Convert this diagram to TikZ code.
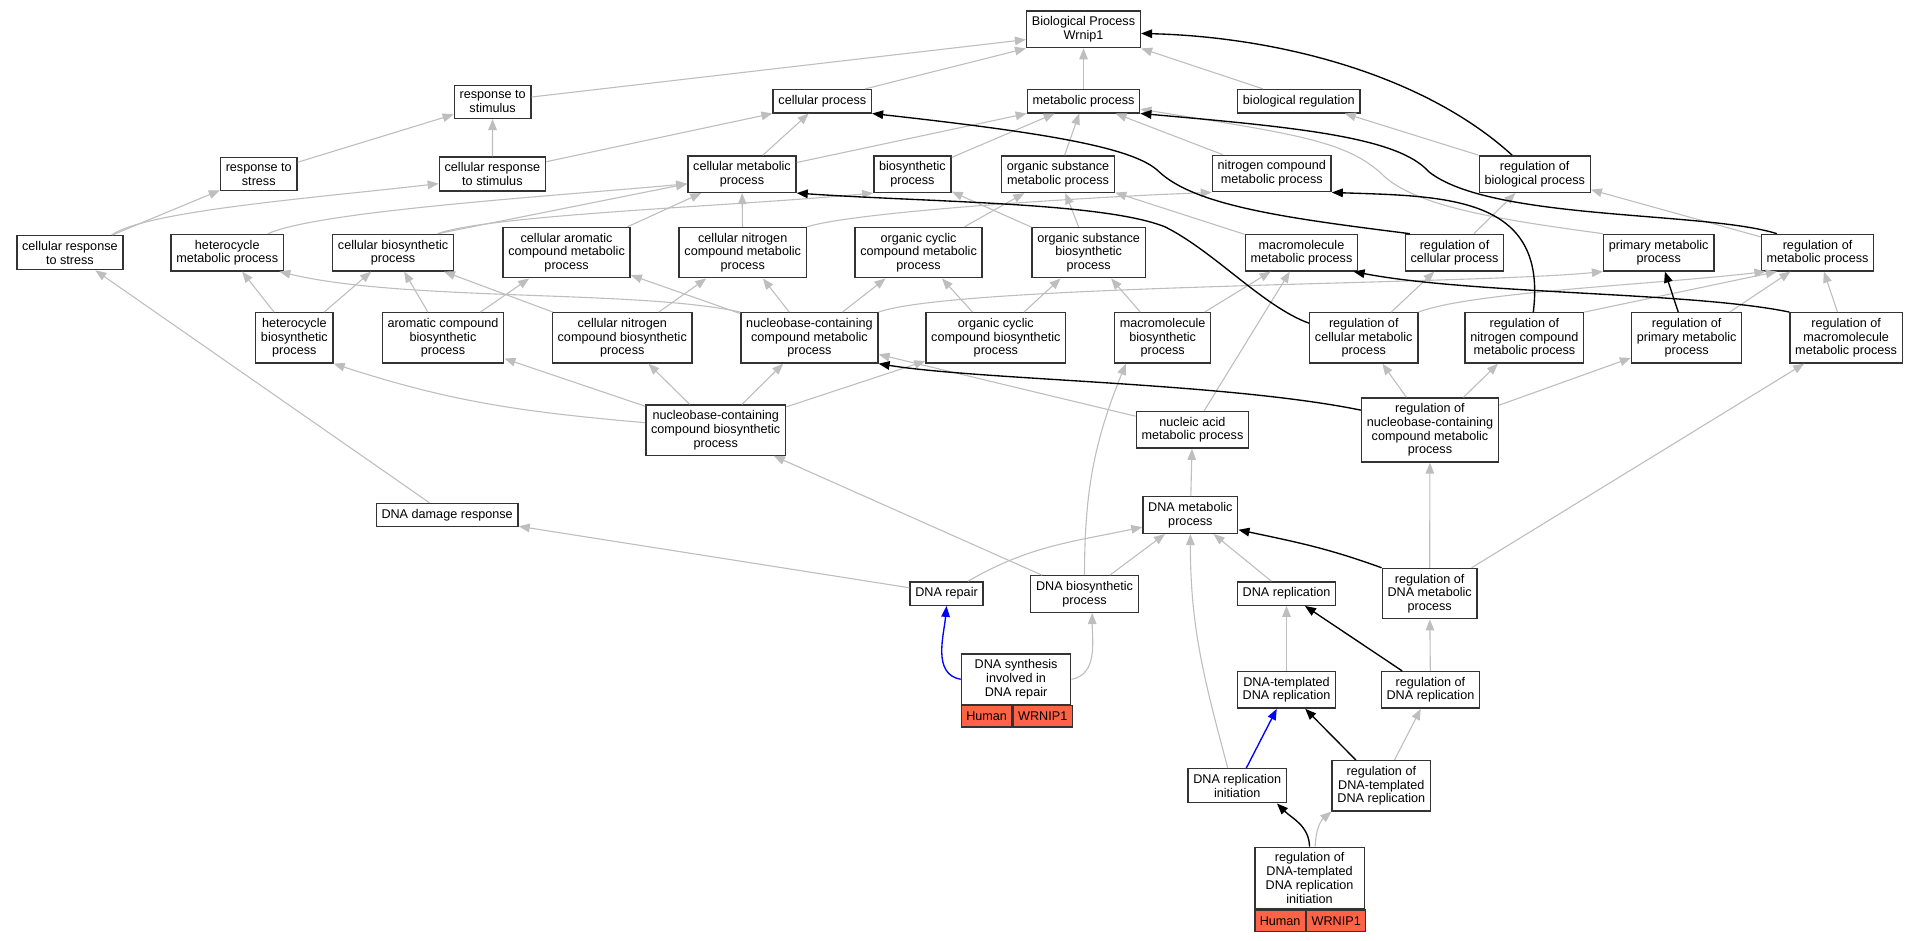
\documentclass[tikz,border=0pt]{standalone}
\usepackage{fontspec}
\setmainfont{Liberation Sans}
\usepackage{xcolor}
\usepackage{tikz}
\usetikzlibrary{arrows.meta, positioning}

\definecolor{edgegray}{HTML}{BEBEBE}
\definecolor{boxline}{HTML}{333333}
\definecolor{hitred}{HTML}{FF6347}

\begin{document}
\begin{tikzpicture}[
        x=1pt, y=1pt,
        term/.style={rectangle, draw=boxline, line width=1.1pt, fill=white, align=center, inner xsep=4.3pt, inner ysep=4.5pt, minimum height=19pt, font=\fontsize{10.3}{11.2}\selectfont},
        hit_term/.style={term, minimum width=89.2pt},
        hit_cell/.style={rectangle, draw=boxline, line width=1.1pt, fill=hitred, inner xsep=4pt, inner ysep=0pt, minimum height=17.4pt, font=\fontsize{10.3}{11.2}\selectfont},
        isa/.style={-{Triangle[length=9pt, width=7pt]}, color=edgegray, line width=0.9pt},
        regarrow/.style={-{Triangle[length=9pt, width=7pt]}, color=black, line width=1.1pt},
        partof/.style={-{Triangle[length=9pt, width=7pt]}, color=blue, line width=1.1pt}
    ]
    \useasboundingbox (0,0) rectangle (1568,-767);

    \node[term] (bp) at (883.5,-24) {Biological Process\\Wrnip1};
    \node[term] (rstim) at (401.7,-83) {response to\\stimulus};
    \node[term] (cellp) at (670.5,-82.5) {cellular process};
    \node[term] (met) at (883.5,-82.5) {metabolic process};
    \node[term] (bioreg) at (1059,-82.5) {biological regulation};

    \node[term] (rstress) at (211,-142) {response to\\stress};
    \node[term] (crstim) at (401.5,-142) {cellular response\\to stimulus};
    \node[term] (cellmet) at (605,-142) {cellular metabolic\\process};
    \node[term] (biosyn) at (744,-142) {biosynthetic\\process};
    \node[term] (osmet) at (862.7,-142) {organic substance\\metabolic process};
    \node[term] (nitro) at (1037,-141.5) {nitrogen compound\\metabolic process};
    \node[term] (regbio) at (1251.4,-142) {regulation of\\biological process};

    \node[term] (crstress) at (57,-206) {cellular response\\to stress};
    \node[term] (hetmet) at (185.3,-206) {heterocycle\\metabolic process};
    \node[term] (cellbio) at (320.5,-206) {cellular biosynthetic\\process};
    \node[term] (cellarom) at (462,-206) {cellular aromatic\\compound metabolic\\process};
    \node[term] (cnmet) at (605.6,-206) {cellular nitrogen\\compound metabolic\\process};
    \node[term] (ocmet) at (749,-206) {organic cyclic\\compound metabolic\\process};
    \node[term] (osbio) at (887.7,-206) {organic substance\\biosynthetic\\process};
    \node[term] (macro) at (1061.2,-206) {macromolecule\\metabolic process};
    \node[term] (regcell) at (1186,-206) {regulation of\\cellular process};
    \node[term] (prim) at (1352.5,-206) {primary metabolic\\process};
    \node[term] (regmet) at (1482,-206) {regulation of\\metabolic process};

    \node[term] (hetbio) at (240,-275.5) {heterocycle\\biosynthetic\\process};
    \node[term] (arombio) at (361.2,-275.5) {aromatic compound\\biosynthetic\\process};
    \node[term] (cnbio) at (507.4,-275.5) {cellular nitrogen\\compound biosynthetic\\process};
    \node[term] (nbmet) at (660,-275.5) {nucleobase-containing\\compound metabolic\\process};
    \node[term] (ocbio) at (812,-275.5) {organic cyclic\\compound biosynthetic\\process};
    \node[term] (macbio) at (948,-275.5) {macromolecule\\biosynthetic\\process};
    \node[term] (regcm) at (1112,-275.5) {regulation of\\cellular metabolic\\process};
    \node[term] (regnit) at (1243,-275.5) {regulation of\\nitrogen compound\\metabolic process};
    \node[term] (regprim) at (1375.3,-275.5) {regulation of\\primary metabolic\\process};
    \node[term] (regmacro) at (1505.3,-275.5) {regulation of\\macromolecule\\metabolic process};

    \node[term] (nbbio) at (583.6,-350.7) {nucleobase-containing\\compound biosynthetic\\process};
    \node[term] (nucleic) at (972.3,-350.5) {nucleic acid\\metabolic process};
    \node[term] (regnb) at (1166,-350.6) {regulation of\\nucleobase-containing\\compound metabolic\\process};

    \node[term] (dnadam) at (364.6,-420) {DNA damage response};
    \node[term] (dnamet) at (970.6,-420) {DNA metabolic\\process};

    \node[term] (dnarepair) at (771.8,-484) {DNA repair};
    \node[term] (dnabio) at (884.3,-484.4) {DNA biosynthetic\\process};
    \node[term] (dnarep) at (1049,-484) {DNA replication};
    \node[term] (regdna) at (1165.7,-484) {regulation of\\DNA metabolic\\process};

    \node[hit_term] (dsyn) at (828.5,-553.9) {DNA synthesis\\involved in\\DNA repair};
    \node[hit_cell, anchor=north west] (dsynH) at (dsyn.south west) {Human};
    \node[hit_cell, right=0pt of dsynH] (dsynW) {WRNIP1};
    \node[term] (dtrep) at (1049,-562.5) {DNA-templated\\DNA replication};
    \node[term] (regrep) at (1166.4,-562.5) {regulation of\\DNA replication};

    \node[term] (drinit) at (1008.8,-640.7) {DNA replication\\initiation};
    \node[term] (regdt) at (1126.3,-640.7) {regulation of\\DNA-templated\\DNA replication};

    \node[hit_term] (rdti) at (1067.8,-715.9) {regulation of\\DNA-templated\\DNA replication\\initiation};
    \node[hit_cell, anchor=north west] (rdtiH) at (rdti.south west) {Human};
    \node[hit_cell, right=0pt of rdtiH] (rdtiW) {WRNIP1};

    \draw[isa] (rstim.7) -- (bp.-170);
    \draw[isa] (cellp.16) -- (bp.south west);
    \draw[isa] (met) -- (bp);
    \draw[isa] (bioreg.161) -- (bp.south east);
    \draw[isa] (rstress.17) -- (rstim.-162);
    \draw[isa] (crstim) -- (rstim);
    \draw[isa] (crstim.13) -- (cellp.south west);
    \draw[isa] (cellmet) -- (cellp);
    \draw[isa] (cellmet.12) -- (met.south west);
    \draw[isa] (biosyn) -- (met);
    \draw[isa] (osmet) -- (met);
    \draw[isa] (nitro) -- (met);
    \draw[isa] (prim.north west) .. controls (1230,-180) and (1160,-170) .. (1130,-145) .. controls (1100,-115) and (1060,-110) .. (met.-8);
    \draw[isa] (regbio.north west) -- (bioreg.-15);
    \draw[isa] (regcell) -- (regbio);
    \draw[isa] (regmet) -- (regbio);
    \draw[isa] (crstress) -- (rstress);
    \draw[isa] (crstress.23) .. controls (120,-172) and (250,-162) .. (crstim.-170);
    \draw[isa] (hetmet.25) .. controls (260,-172) and (450,-160) .. (cellmet.-170);
    \draw[isa] (cellbio.23) -- (cellmet.-170);
    \draw[isa] (cellbio.23) .. controls (400,-175) and (600,-168) .. (biosyn.south west);
    \draw[isa] (cellarom.23) -- (cellmet.-155);
    \draw[isa] (cnmet) -- (cellmet);
    \draw[isa] (cnmet.north east) .. controls (700,-172) and (900,-160) .. (nitro.south west);
    \draw[isa] (ocmet) -- (osmet);
    \draw[isa] (osbio) -- (osmet);
    \draw[isa] (osbio) -- (biosyn);
    \draw[isa] (macro) -- (osmet);
    \draw[isa] (hetbio) -- (hetmet);
    \draw[isa] (hetbio) -- (cellbio);
    \draw[isa] (arombio) -- (cellbio);
    \draw[isa] (arombio) -- (cellarom);
    \draw[isa] (cnbio) -- (cellbio);
    \draw[isa] (cnbio) -- (cnmet);
    \draw[isa] (nbmet) -- (cnmet);
    \draw[isa] (nbmet) -- (ocmet);
    \draw[isa] (nbmet) -- (cellarom);
    \draw[isa] (nbmet.north west) .. controls (520,-236) and (330,-246) .. (hetmet.-20);
    \draw[isa] (nbmet.north east) .. controls (780,-232) and (1200,-232) .. (prim.south west);
    \draw[isa] (ocbio) -- (ocmet);
    \draw[isa] (ocbio) -- (osbio);
    \draw[isa] (macbio) -- (osbio);
    \draw[isa] (macbio) -- (macro);
    \draw[isa] (regcm) -- (regcell);
    \draw[isa] (regcm.north east) .. controls (1200,-238) and (1350,-232) .. (regmet.-160);
    \draw[isa] (regnit.north east) -- (regmet.-155);
    \draw[isa] (regprim.31) -- (regmet.-145);
    \draw[isa] (regmacro) -- (regmet);
    \draw[isa] (nbbio.174) to[out=175, in=-18] (hetbio.south east);
    \draw[isa] (nbbio) -- (arombio);
    \draw[isa] (nbbio) -- (cnbio);
    \draw[isa] (nbbio) -- (nbmet);
    \draw[isa] (nbbio) -- (ocbio);
    \draw[isa] (nucleic) -- (nbmet);
    \draw[isa] (nucleic) -- (macro);
    \draw[isa] (regnb) -- (regcm);
    \draw[isa] (regnb) -- (regnit);
    \draw[isa] (regnb) -- (regprim);
    \draw[isa] (dnadam) -- (crstress);
    \draw[isa] (dnamet) -- (nucleic);
    \draw[isa] (dnarepair) -- (dnadam);
    \draw[isa] (dnarepair.30) to[out=30, in=-168] (dnamet.-166);
    \draw[isa] (dnabio) -- (dnamet);
    \draw[isa] (dnabio) -- (nbbio);
    \draw[isa] (dnabio.north) to[out=90, in=-112] (macbio.-145);
    \draw[isa] (dnarep) -- (dnamet);
    \draw[isa] (regdna) -- (regnb);
    \draw[isa] (regdna) -- (regmacro);
    \draw[isa] (dsyn.east) to[out=10, in=-90] (dnabio.-68);
    \draw[isa] (dtrep) -- (dnarep);
    \draw[isa] (regrep) -- (regdna);
    \draw[isa] (drinit.118) to[out=105, in=-90] (dnamet.south);
    \draw[isa] (regdt) -- (regrep);
    \draw[isa] (rdti.80) to[out=88, in=-140] (regdt.south west);

    \draw[regarrow] (regbio.140) .. controls (1160,-60) and (1040,-30) .. (bp.-4);
    \draw[regarrow] (regmet.155) .. controls (1390,-172) and (1215,-180) .. (1165,-140) .. controls (1140,-112) and (1060,-104) .. (met.south east);
    \draw[regarrow] (regcell.157) .. controls (1050,-178) and (975,-168) .. (945,-140) .. controls (925,-120) and (850,-108) .. (cellp.south east);
    \draw[regarrow] (regnit.71) .. controls (1262,-160) and (1180,-160) .. (nitro.south east);
    \draw[regarrow] (regcm.165) .. controls (1030,-250) and (990,-205) .. (950,-185) .. controls (900,-165) and (760,-165) .. (cellmet.south east);
    \draw[regarrow] (regprim) -- (prim);
    \draw[regarrow] (regmacro.north west) .. controls (1380,-238) and (1200,-240) .. (macro.-20);
    \draw[regarrow] (regnb.164) .. controls (1000,-312) and (800,-310) .. (nbmet.south east);
    \draw[regarrow] (regdna.north west) to[out=160, in=-12] (dnamet.-17);
    \draw[regarrow] (regrep) -- (dnarep);
    \draw[regarrow] (regdt) -- (dtrep);
    \draw[regarrow] (rdti.north) to[out=92, in=-45] (drinit.-24);

    \draw[partof] (dsyn.west) to[out=170, in=-95] (dnarepair.south);
    \draw[partof] (drinit) -- (dtrep);
\end{tikzpicture}
\end{document}
